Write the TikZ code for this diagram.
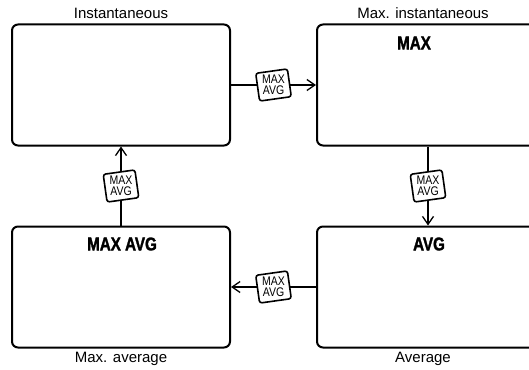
\documentclass[tikz,border=0pt]{standalone}
\usepackage{fontspec}
\setmainfont{Liberation Sans}
\newfontfamily\condfont[FakeStretch=0.84]{Liberation Sans}
\newfontfamily\heavyfont[FakeStretch=0.82, FakeBold=1.6]{Liberation Sans Bold}
\usepackage{tikz}
\usetikzlibrary{arrows.meta}

\tikzset{
  panel/.style={draw, line width=2pt, rounded corners=6pt, minimum height=121pt},
  caption/.style={font=\fontsize{15}{17}\selectfont},
  heading/.style={font=\heavyfont\fontsize{18.5}{20}\selectfont},
  tagframe/.style={draw, line width=1.6pt, rounded corners=2.5pt, fill=white,
                   minimum width=32pt, minimum height=28pt, rotate=8},
  tagtext/.style={align=center, inner sep=0pt,
                  font=\condfont\fontsize{12.5}{11}\selectfont}
}

\begin{document}
\begin{tikzpicture}[x=1pt, y=-1pt, line width=1.3pt,
                    >={Straight Barb[length=8pt,width=11pt]}]
    \useasboundingbox (0,0) rectangle (529,369);
    \clip (0,0) rectangle (529,369);

    \node[panel, minimum width=218pt](inst) at (121, 85) {};
    \node[panel, minimum width=222pt](maxinst) at (428, 85) {};
    \node[panel, minimum width=218pt](maxavg) at (121,287) {};
    \node[panel, minimum width=222pt](avg) at (428,287) {};

    \node[caption](c1) at (121, 13) {Instantaneous};
    \node[caption](c2) at (423, 13) {Max. instantaneous};
    \node[caption](c3) at (121,359) {Max. average};
    \node[caption](c4) at (423,359) {Average};

    \node[heading](h2) at (414, 43) {MAX};
    \node[heading](h3) at (122,244) {MAX AVG};
    \node[heading](h4) at (429,244) {AVG};

    \draw[->] (inst) -- node[tagframe](f1) {} (maxinst);
    \draw[->] (maxinst) -- node[tagframe](f2) {} (avg);
    \draw[->] (avg) -- node[tagframe](f3) {} (maxavg);
    \draw[->] (maxavg) -- node[tagframe](f4) {} (inst);

    \node[tagtext] at (f1) {MAX\\AVG};
    \node[tagtext] at (f2) {MAX\\AVG};
    \node[tagtext] at (f3) {MAX\\AVG};
    \node[tagtext] at (f4) {MAX\\AVG};
  \end{tikzpicture}
\end{document}
